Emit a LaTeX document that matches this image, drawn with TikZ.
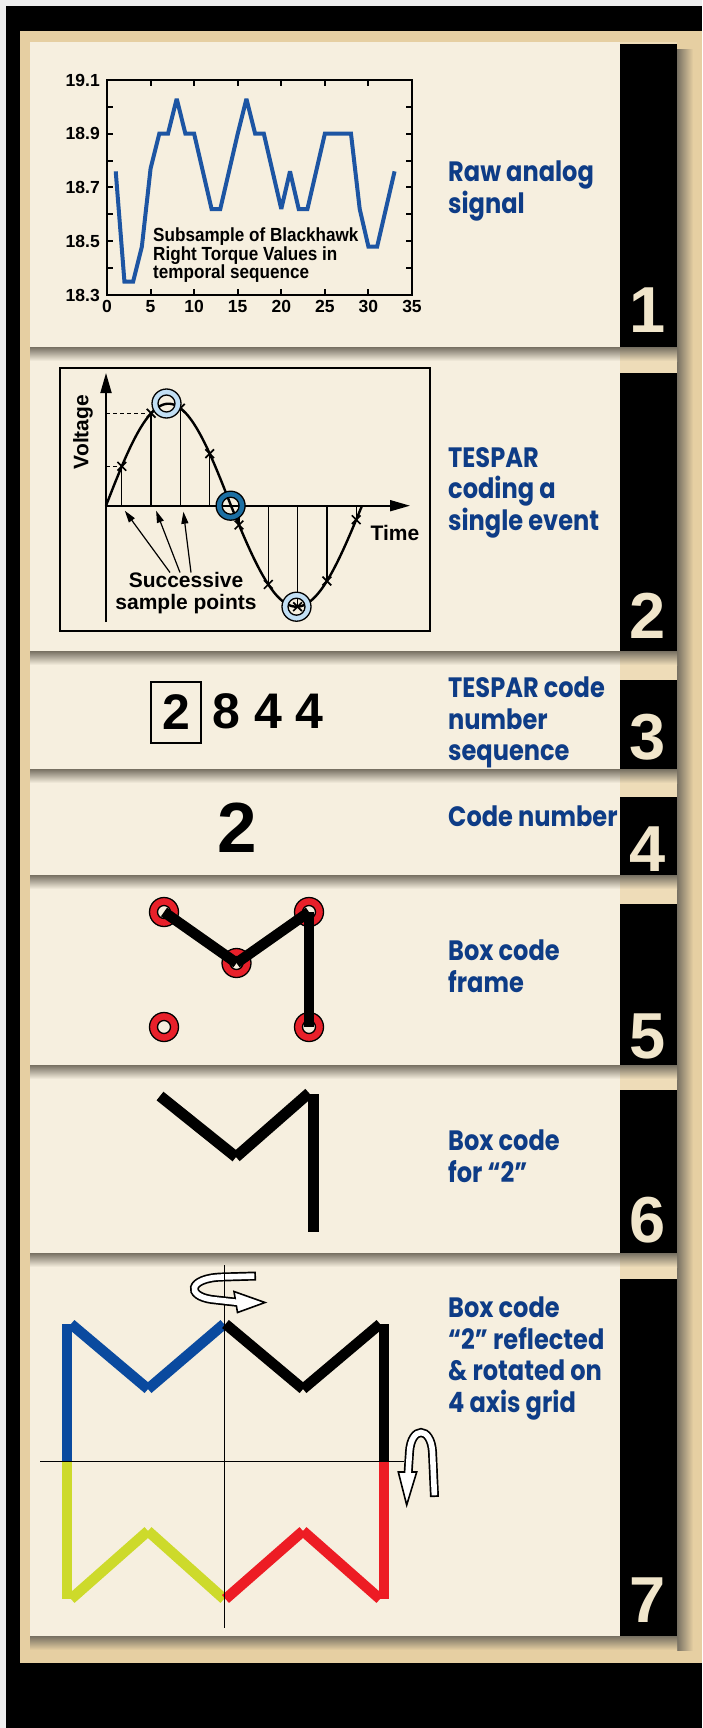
\documentclass[tikz,border=0pt]{standalone}
\usepackage{fontspec}
\setmainfont{Liberation Sans}
\newfontfamily\capfont[FakeStretch=0.86]{Poppins}
\newfontfamily\narrowfont[FakeStretch=0.9]{Liberation Sans}
\usepackage{tikz}
\usetikzlibrary{arrows.meta,positioning,shapes.misc}
\definecolor{edgegray}{HTML}{EEEEEE}
\definecolor{framebg}{HTML}{E6CFA2}
\definecolor{gapbg}{HTML}{EEDCB8}
\definecolor{panelbg}{HTML}{F6EFDF}
\definecolor{shadowdk}{HTML}{777062}
\definecolor{capblue}{HTML}{0E3C86}
\definecolor{plotblue}{HTML}{1D55A3}
\definecolor{numcream}{HTML}{F1E6CB}
\definecolor{ringlight}{HTML}{C2DFF4}
\definecolor{ringdark}{HTML}{1C6FA3}
\definecolor{ringred}{HTML}{E8202A}
\definecolor{codeblue}{HTML}{0A4A9F}
\definecolor{codeyellow}{HTML}{CDDA2B}
\definecolor{codered}{HTML}{ED1C24}
\tikzset{
  capnode/.style={anchor=north west,inner sep=0pt,align=left,text=capblue,
    font=\capfont\bfseries\fontsize{28}{31.5}\selectfont},
  boxnum/.style={anchor=south,inner sep=0pt,text=numcream,
    font=\bfseries\fontsize{65}{65}\selectfont},
  ticklabel/.style={inner sep=0pt,font=\bfseries\fontsize{17.5}{18}\selectfont},
  notelabel/.style={anchor=north west,inner sep=0pt,align=left,
    font=\narrowfont\bfseries\fontsize{19}{18.5}\selectfont},
  siglabel/.style={inner sep=0pt,align=center,font=\bfseries\fontsize{21}{22}\selectfont},
  seqdigit/.style={inner sep=0pt,font=\bfseries\fontsize{50}{50}\selectfont},
  plotframe/.style={line width=2.2pt},
  plottick/.style={line width=2pt},
  datapath/.style={plotblue,line width=4pt,miter limit=3},
  sigaxis/.style={line width=1.8pt,-{Triangle[length=20pt,width=11pt]}},
  sigcurve/.style={line width=2.4pt},
  sampleline/.style={line width=1.3pt},
  dashline/.style={line width=1.3pt,dash pattern=on 4pt off 3pt},
  xmark/.style={cross out,draw,line width=1.7pt,minimum size=7pt,inner sep=0pt},
  pointer/.style={line width=1.2pt,-{Triangle[length=12pt,width=7pt]}},
  ringedge/.style={line width=1.3pt},
  codestroke/.style={line width=10.5pt,line cap=butt},
  gridaxis/.style={line width=1.3pt},
  bandout/.style={line width=9pt},
  bandin/.style={white,line width=5.6pt,shorten <=1.7pt},
  arrowhd/.style={fill=white,line width=1.6pt,line join=miter},
}

\begin{document}
\begin{tikzpicture}[x=1pt,y=-1pt]
  % frame and panels
  \fill[edgegray] (0,0) rectangle (702,1728);
  \useasboundingbox (0,0) rectangle (702,1728);
  \fill[black] (6,6) rectangle (702,1728);
  \fill[framebg] (20,31) rectangle (702,1663);
  \fill[gapbg] (620,42) rectangle (677,1636);
  \fill[panelbg] (30,42) rectangle (620,1636);
  \shade[left color=shadowdk,right color=framebg] (677,50) rectangle (693,1650);
  \foreach \ytop/\ybot/\num/\ybase in {44/347/1/333,373/651/2/639,680/769/3/760,
      797/875/4/872,904/1065/5/1059,1090/1253/6/1243,1279/1636/7/1623}{
    \shade[top color=shadowdk,bottom color=panelbg] (30,\ybot) rectangle (620,\ybot+14);
    \shade[top color=shadowdk,bottom color=gapbg] (620,\ybot) rectangle (677,\ybot+14);
    \fill[black] (620,\ytop) rectangle (677,\ybot);
    \node[boxnum] (num\num) at (648,\ybase) {\num};
  }
  \shade[top color=shadowdk,bottom color=framebg] (30,1636) rectangle (677,1650);

  % captions
  \node[capnode] (cap1) at (448,161) {Raw analog\\signal};
  \node[capnode] (cap2) at (448,447) {TESPAR\\coding a\\single event};
  \node[capnode] (cap3) at (448,677) {TESPAR code\\number\\sequence};
  \node[capnode] (cap4) at (448,806) {Code number};
  \node[capnode] (cap5) at (448,940) {Box code\\frame};
  \node[capnode] (cap6) at (448,1130) {Box code\\for “2”};
  \node[capnode] (cap7) at (448,1297) {Box code\\“2” reflected\\\& rotated on\\4 axis grid};

  % 1: raw signal
  \draw[plotframe] (107,80) rectangle (412,295);
  \begin{scope}[shift={(107pt,-5213.125pt)},x=8.714pt,y=268.75pt]
    \foreach \v in {18.4,18.5,...,19.05}{
      \draw[plottick] (0,\v) -- ++(6pt,0);
      \draw[plottick] (35,\v) -- ++(-6pt,0);
    }
    \foreach \t in {5,10,...,30}{
      \draw[plottick] (\t,18.3) -- ++(0,6pt);
      \draw[plottick] (\t,19.1) -- ++(0,-6pt);
    }
    \foreach \v in {18.3,18.5,18.7,18.9,19.1}
      \node[ticklabel,left=7pt] (yl\v) at (0,\v) {\v};
    \foreach \t in {0,5,...,35}
      \node[ticklabel,below=5pt] (xl\t) at (\t,18.3) {\t};
    \draw[datapath] plot coordinates {(1,18.76) (2,18.35) (3,18.35) (4,18.48)
      (5,18.77) (6,18.90) (7,18.90) (8,19.03) (9,18.90) (10,18.90) (11,18.76)
      (12,18.62) (13,18.62) (14,18.76) (15,18.90) (16,19.03) (17,18.90)
      (18,18.90) (19,18.76) (20,18.62) (21,18.76) (22,18.62) (23,18.62)
      (24,18.76) (25,18.90) (26,18.90) (27,18.90) (28,18.90) (29,18.62)
      (30,18.48) (31,18.48) (32,18.62) (33,18.76)};
  \end{scope}
  \node[notelabel] (note) at (153,228) {Subsample of Blackhawk\\Right Torque Values in\\temporal sequence};

  % 2: TESPAR coding
  \draw[line width=1.4pt] (60,368) rectangle (430,631);
  \coordinate (org) at (106,505.7);
  \draw[sigaxis] (106,622) -- (106,373);
  \draw[sigaxis] (org) -- (410,505.7);
  \draw[sigcurve] plot[domain=106:362,samples=160]
    (\x,{(\x<231) ? (505.7-102*sin(1.44*(\x-106))) : (505.7+101*sin(1.374*(\x-231)))});
  \foreach \k in {0,...,8}{
    \pgfmathsetmacro\sx{121.8+29.3*\k}
    \pgfmathsetmacro\sy{(\sx<231) ? (505.7-102*sin(1.44*(\sx-106))) : (505.7+101*sin(1.374*(\sx-231)))}
    \draw[sampleline] (\sx,505.7) -- (\sx,\sy);
    \node[xmark] (s\k) at (\sx,\sy) {};
  }
  \draw[dashline] (s0 -| org) -- (s0);
  \draw[dashline] (s1 -| org) -- (s1);
  \coordinate (peak) at (166.5,403.5);
  \coordinate (zero) at (230.6,505.7);
  \coordinate (trough) at (296.5,606.7);
  \foreach \c/\col in {peak/ringlight,zero/ringdark,trough/ringlight}{
    \draw[\col,line width=6pt] (\c) circle (11.5pt);
    \draw[ringedge] (\c) circle (14.5pt) (\c) circle (8.5pt);
  }
  \node[siglabel,rotate=90] (volt) at (83,432) {Voltage};
  \node[siglabel] (time) at (395,533) {Time};
  \node[siglabel] (succ) at (186,593.5) {Successive\\sample points};
  \draw[pointer] ([xshift=-16pt]succ.north) -- ([xshift=3pt,yshift=-5pt]s0 |- org);
  \draw[pointer] ([xshift=-6pt]succ.north) -- ([xshift=5pt,yshift=-5pt]s1 |- org);
  \draw[pointer] ([xshift=5pt]succ.north) -- ([xshift=3pt,yshift=-6pt]s2 |- org);

  % 3: code sequence
  \node[seqdigit,draw,line width=1.8pt,minimum width=49.7pt,minimum height=61.6pt] (d1) at (176.2,712.5) {2};
  \node[seqdigit] (d2) at (226.3,711) {8};
  \node[seqdigit] (d3) at (268.5,711) {4};
  \node[seqdigit] (d4) at (309,711) {4};

  % 4: code number
  \node[seqdigit,font=\bfseries\fontsize{71}{71}\selectfont] (code) at (237,828) {2};

  % 5: box code frame
  \coordinate (f1) at (164,912);
  \coordinate (f2) at (309,912);
  \coordinate (f3) at (236.5,963);
  \coordinate (f4) at (164,1027);
  \coordinate (f5) at (309,1027);
  \foreach \c in {f1,f2,f3,f4,f5}{
    \draw[ringred,line width=8pt] (\c) circle (10.5pt);
    \draw[ringedge] (\c) circle (14.5pt) (\c) circle (6.5pt);
  }
  \draw[codestroke] (f1) -- (f3);
  \draw[codestroke] (f3) -- (f2);
  \draw[codestroke] (f2) -- (f5);

  % 6: box code for 2
  \coordinate (b1) at (160,1096);
  \coordinate (b2) at (236,1157);
  \coordinate (b3) at (309,1093);
  \coordinate (b4) at (313.5,1094);
  \coordinate (b5) at (313.5,1232);
  \draw[codestroke,line width=11pt] (b1) -- (b2);
  \draw[codestroke,line width=11pt] (b2) -- (b3);
  \draw[codestroke,line width=11pt] (b4) -- (b5);

  % 7: reflected and rotated
  \coordinate (ctr) at (224.7,1461.7);
  \draw[codestroke,codeblue] (67,1461.7) -- (67,1324);
  \draw[codestroke,codeblue] (71,1324) -- (148,1389);
  \draw[codestroke,codeblue] (148,1389) -- (224,1324);
  \draw[codestroke] (225.5,1324) -- (303,1389);
  \draw[codestroke] (303,1389) -- (380,1324);
  \draw[codestroke] (384,1324) -- (384,1461.7);
  \draw[codestroke,codeyellow] (67,1461.7) -- (67,1599);
  \draw[codestroke,codeyellow] (71,1599) -- (148,1531);
  \draw[codestroke,codeyellow] (148,1531) -- (224,1599);
  \draw[codestroke,codered] (225.5,1599) -- (303,1531);
  \draw[codestroke,codered] (303,1531) -- (380,1599);
  \draw[codestroke,codered] (384,1599) -- (384,1461.7);
  \draw[gridaxis] (224.7,1265) -- (224.7,1628);
  \draw[gridaxis] (40,1461.7) -- (404,1461.7);
  % rotation arrows
  \draw[bandout] (256,1276) -- (222,1277) .. controls (188,1278) and (186,1296) .. (212,1299.5) -- (239,1302.5);
  \filldraw[arrowhd] (234,1291.5) -- (265,1302.5) -- (237.5,1312.5) -- cycle;
  \draw[bandin] (256,1276) -- (222,1277) .. controls (188,1278) and (186,1296) .. (212,1299.5) -- (239,1302.5);
  \draw[gridaxis] (224.7,1265) -- (224.7,1284);
  \draw[bandout] (434.5,1497) -- (432.5,1452) .. controls (431,1426) and (411,1426) .. (409.5,1452) -- (408,1475);
  \filldraw[arrowhd] (398.3,1472) -- (416.7,1472) -- (406.7,1505) -- cycle;
  \draw[bandin] (434.5,1497) -- (432.5,1452) .. controls (431,1426) and (411,1426) .. (409.5,1452) -- (408,1475);
\end{tikzpicture}
\end{document}
